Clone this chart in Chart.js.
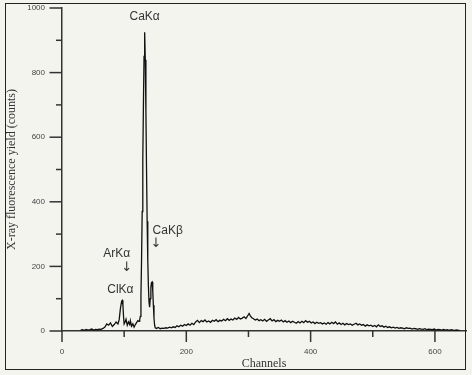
<!DOCTYPE html>
<html>
<head>
<meta charset="utf-8">
<script src="https://cdn.jsdelivr.net/npm/chart.js@4.4.0/dist/chart.umd.min.js"></script>
<style>
  html, body { margin: 0; padding: 0; background: #f4f4ef; }
  #wrap { position: relative; width: 472px; height: 375px; }
  #frame { position: absolute; left: 5px; top: 3px; width: 459px; height: 365px; border: 1.5px solid #222; pointer-events: none; }
  canvas { position: absolute; left: 0; top: 0; }
</style>
</head>
<body>
<div id="wrap">
  <canvas id="c" width="472" height="375"></canvas>
  <div id="frame"></div>
</div>
<script>
// ---- Data ----
const channels = [
  30,33,36,39,42,45,48,51,54,57,60,63,66,69,72,75,78,81,84,87,90,92,94,96,97,98,99,100,102,103,105,107,109,110,112,114,116,118,120,122,124,125,126,127,128,129,130,131,132,133,134,135,136,137,138,139,140,141,142,143,144,145,146,147,148,149,150,
  152,155,158,161,164,167,170,173,176,179,182,185,188,191,194,197,200,203,206,209,212,215,218,221,224,227,230,233,236,239,242,245,248,251,254,257,260,263,266,269,272,275,278,281,284,287,290,293,296,299,301,303,305,308,311,314,317,320,323,326,329,332,335,338,341,344,347,350,353,356,359,362,365,368,371,374,377,380,383,386,389,392,395,398,401,404,407,410,413,416,419,422,425,428,431,434,437,440,443,446,449,452,455,458,461,464,467,470,473,476,479,482,485,488,491,494,497,500,503,506,509,512,515,518,521,524,527,530,533,536,539,542,545,548,551,554,557,560,563,566,569,572,575,578,581,584,587,590,593,596,599,602,605,608,611,614,617,620,623,626,629,632,635,638,640
];
const counts = [
  3,4,2,5,3,4,6,3,5,4,6,5,8,12,22,18,25,14,20,28,22,35,70,93,95,80,45,22,30,36,18,28,20,32,15,22,12,20,26,32,30,35,45,110,220,370,530,700,850,925,840,680,500,340,220,140,90,74,100,135,150,152,125,80,40,18,10,
  8,11,7,9,8,10,9,12,10,13,11,16,13,18,15,20,17,22,18,24,20,28,33,26,32,29,34,28,31,27,33,30,35,29,33,31,36,32,38,33,37,34,40,36,42,37,40,44,39,48,54,47,42,38,34,37,32,35,31,36,30,34,38,31,35,29,33,30,34,28,32,27,31,26,30,27,24,29,25,30,26,32,27,30,25,28,23,27,24,26,22,25,21,26,22,27,23,28,21,25,20,24,19,23,20,22,18,21,24,19,22,18,20,15,19,16,18,14,17,13,19,14,16,12,15,11,13,10,12,9,11,8,10,9,7,10,8,9,6,8,7,5,7,6,5,7,4,6,5,4,6,3,5,4,3,5,3,4,2,4,3,2,3,2,2
];
const xTickValues = [0,100,200,300,400,500,600];
const yTickValues = [0,100,200,300,400,500,600,700,800,900,1000];
const annotations = [
  { text: 'CaK\u03B1', ch: 133, v: 973 },
  { text: 'CaK\u03B2', ch: 170, v: 311 },
  { text: '\u2193',    ch: 151, v: 271, arrow: true },
  { text: 'ArK\u03B1', ch: 88,  v: 240 },
  { text: '\u2193',    ch: 104, v: 197, arrow: true },
  { text: 'ClK\u03B1', ch: 94,  v: 129 }
];

const points = channels.map((c, i) => ({ x: c, y: counts[i] }));

const tickPlugin = {
  id: 'ticksAndNotes',
  afterDraw(chart) {
    const ctx = chart.ctx;
    const xs = chart.scales.x, ys = chart.scales.y;
    const ca = chart.chartArea;
    ctx.save();
    ctx.strokeStyle = '#333';
    ctx.lineWidth = 1.5;
    xTickValues.forEach(v => {
      const px = xs.getPixelForValue(v);
      const len = (v % 200 === 0) ? 11 : 6;
      ctx.beginPath(); ctx.moveTo(px, ca.bottom); ctx.lineTo(px, ca.bottom + len); ctx.stroke();
    });
    yTickValues.forEach(v => {
      const py = ys.getPixelForValue(v);
      const len = (v % 200 === 0) ? 12.5 : 6;
      ctx.beginPath(); ctx.moveTo(ca.left, py); ctx.lineTo(ca.left - len, py); ctx.stroke();
    });
    ctx.fillStyle = '#333';
    ctx.textAlign = 'center';
    ctx.textBaseline = 'middle';
    annotations.forEach(a => {
      ctx.font = a.arrow ? '13px "DejaVu Sans", sans-serif' : '12px "Liberation Sans", Arial, sans-serif';
      ctx.fillText(a.text, xs.getPixelForValue(a.ch), ys.getPixelForValue(a.v));
    });
    ctx.restore();
  }
};

new Chart(document.getElementById('c'), {
  type: 'scatter',
  data: {
    datasets: [{
      data: points,
      showLine: true,
      borderColor: '#111',
      borderWidth: 1.3,
      pointRadius: 0,
      tension: 0,
      fill: false
    }]
  },
  options: {
    responsive: false,
    animation: false,
    layout: { padding: { left: 0, right: 6, top: 8, bottom: 0 } },
    plugins: { legend: { display: false }, tooltip: { enabled: false } },
    scales: {
      x: {
        type: 'linear', min: 0, max: 650,
        grid: { display: false, drawTicks: false },
        border: { display: true, color: '#333', width: 1.5 },
        ticks: {
          stepSize: 100, includeBounds: false, padding: 16, maxRotation: 0, autoSkip: false,
          color: '#444', font: { family: '"Liberation Sans", Arial, sans-serif', size: 8 },
          callback: v => (v % 200 === 0 ? String(v) : '')
        },
        title: {
          display: true, text: 'Channels', color: '#333',
          font: { family: '"Liberation Serif", "Times New Roman", serif', size: 12 },
          padding: { top: 0, bottom: 4 }
        },
        afterFit: s => { s.height = 44; s.paddingLeft = 0; s.paddingRight = 0; }
      },
      y: {
        type: 'linear', min: 0, max: 1000,
        grid: { display: false, drawTicks: false },
        border: { display: true, color: '#333', width: 1.5 },
        ticks: {
          stepSize: 100, padding: 17, autoSkip: false,
          color: '#444', font: { family: '"Liberation Sans", Arial, sans-serif', size: 8 },
          callback: v => (v % 200 === 0 ? String(v) : '')
        },
        title: {
          display: true, text: 'X-ray fluorescence yield (counts)', color: '#333',
          font: { family: '"Liberation Serif", "Times New Roman", serif', size: 12 },
          padding: { top: 5, bottom: 0 }
        },
        afterFit: s => { s.width = 62; s.paddingTop = 0; s.paddingBottom = 0; }
      }
    }
  },
  plugins: [tickPlugin]
});
</script>
</body>
</html>
